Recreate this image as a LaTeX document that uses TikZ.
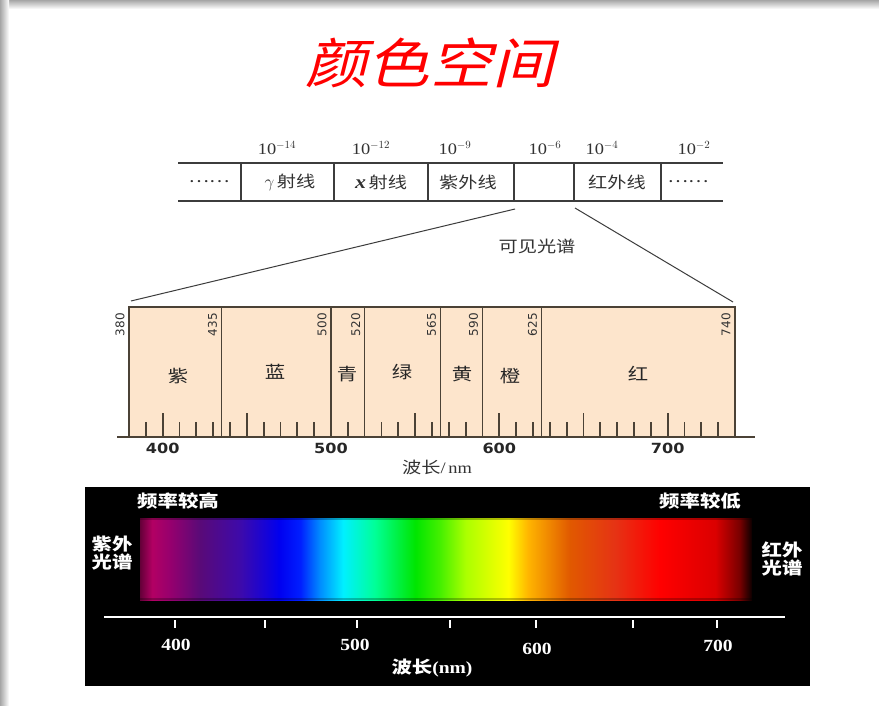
\documentclass[tikz,border=0pt]{standalone}
\usepackage{fontspec}
\setmainfont{Liberation Serif}[FakeStretch=1.15]
\newfontfamily\cjk{Noto Sans CJK SC}[FakeStretch=1.2]
\newfontfamily\titlefont{Noto Sans CJK SC}[FakeSlant=0.25,FakeStretch=1.15]
\newfontfamily\numfont{DejaVu Sans}[FakeStretch=1.15]
\newfontfamily\rotfont{DejaVu Sans}
\pgfdeclarehorizontalshading{spectrum}{100bp}{%
rgb(0bp)=(0.39,0,0.22);
rgb(25bp)=(0.39,0,0.22);
rgb(26bp)=(0.70,0,0.39);
rgb(27.45bp)=(0.59,0,0.43);
rgb(29.9bp)=(0.35,0.04,0.47);
rgb(33.2bp)=(0.24,0.04,0.67);
rgb(36.4bp)=(0,0,0.94);
rgb(38.1bp)=(0,0.12,1);
rgb(39.7bp)=(0,0.55,1);
rgb(41.6bp)=(0,0.94,1);
rgb(44.2bp)=(0,1,0.59);
rgb(47.5bp)=(0,0.90,0);
rgb(49.5bp)=(0.27,0.94,0);
rgb(51.6bp)=(0.67,1,0);
rgb(55.1bp)=(1,1,0);
rgb(56.7bp)=(1,0.71,0);
rgb(60.1bp)=(0.88,0.35,0);
rgb(63.8bp)=(0.90,0.20,0.08);
rgb(67.5bp)=(1,0,0);
rgb(72bp)=(0.86,0,0);
rgb(74bp)=(0.47,0,0);
rgb(75bp)=(0.04,0,0);
rgb(100bp)=(0.04,0,0)}
\definecolor{peach}{RGB}{253,229,204}
\definecolor{tline}{RGB}{60,60,60}
\definecolor{ttext}{RGB}{50,50,50}
\definecolor{bline}{RGB}{75,66,54}
\begin{document}
\begin{tikzpicture}[x=1pt,y=-1pt,
  tabline/.style={draw=tline,line width=1.1pt},
  tabtext/.style={text=ttext,font=\cjk\fontsize{16}{16}\selectfont,inner sep=0pt},
  exptext/.style={text=ttext,font=\fontsize{16}{16}\selectfont,inner sep=0pt},
  bandline/.style={draw=bline,line width=1.4pt},
  tickline/.style={draw=bline,line width=1.7pt},
  bandtext/.style={text=black!85,font=\cjk\fontsize{17}{17}\selectfont,inner sep=0pt},
  rotnum/.style={rotate=90,anchor=east,text=black!80,font=\rotfont\fontsize{12}{12}\selectfont,inner sep=0pt},
  axnum/.style={text=black!85,font=\numfont\bfseries\fontsize{14}{14}\selectfont,inner sep=0pt},
  whitetext/.style={text=white,font=\cjk\bfseries\fontsize{17}{17}\selectfont,inner sep=0pt,align=center},
  whitenum/.style={text=white,font=\bfseries\fontsize{17}{17}\selectfont,inner sep=0pt}]
\useasboundingbox (0,0) rectangle (879,706);
\fill[white] (0,0) rectangle (879,706);
\shade[top color=black!35,bottom color=white] (0,0) rectangle (879,9);
\shade[left color=black!35,right color=white] (0,0) rectangle (9,706);
% title
\node[text=red,font=\titlefont\fontsize{54}{54}\selectfont,inner sep=0pt] (title) at (430,63) {颜色空间};
% top table
\coordinate (tl) at (178,163); \coordinate (tr) at (723,163);
\coordinate (bl) at (178,201); \coordinate (br) at (723,201);
\draw[tabline] (tl) -- (tr);
\draw[tabline] (bl) -- (br);
\foreach \x/\n in {241/a,334/b,428/c,514/d,574/e,661/f}{
  \coordinate (d\n t) at (\x,163); \coordinate (d\n b) at (\x,201);
  \draw[tabline] (d\n t) -- (d\n b);}
\node[tabtext] (dots1) at (209,182) {……};
\node[tabtext] (gam) at (290,182) {{\rmfamily\itshape\fontsize{19}{19}\selectfont $\gamma$}\,射线};
\node[tabtext] (xr) at (381,182) {{\rmfamily\bfseries\itshape\fontsize{19}{19}\selectfont x}\,射线};
\node[tabtext] (uv) at (468,182) {紫外线};
\node[tabtext] (ir) at (617,182) {红外线};
\node[tabtext] (dots2) at (688,182) {……};
\node[exptext] (e1) at (277,148) {10$^{\scriptstyle -14}$};
\node[exptext] (e2) at (371,148) {10$^{\scriptstyle -12}$};
\node[exptext] (e3) at (455,148) {10$^{\scriptstyle -9}$};
\node[exptext] (e4) at (545,148) {10$^{\scriptstyle -6}$};
\node[exptext] (e5) at (602,148) {10$^{\scriptstyle -4}$};
\node[exptext] (e6) at (694,148) {10$^{\scriptstyle -2}$};
% zoom lines
\coordinate (zl) at (515,209); \coordinate (zr) at (575,208);
\coordinate (zl2) at (131,301); \coordinate (zr2) at (733,302);
\draw[draw=tline,line width=1pt] (zl) -- (zl2);
\draw[draw=tline,line width=1pt] (zr) -- (zr2);
\node[text=ttext,font=\cjk\fontsize{16}{16}\selectfont,inner sep=0pt] (vis) at (537,246) {可见光谱};
% visible band
\fill[peach] (129,307) rectangle (735,437);
\draw[bandline] (129,437) -- (129,307) -- (735,307) -- (735,437);
\foreach \l in {435,500,520,565,590,625}{
  \draw[bandline] ({129+(\l-380)*1.6833},307) -- ({129+(\l-380)*1.6833},437);}
\foreach \l in {380,435,500,520,565,590,625,740}{
  \node[rotnum] at ({129+(\l-380)*1.6833-9},313) {\l};}
\foreach \l in {390,400,...,730}{
  \ifnum\l=500\relax\else\ifnum\l=520\relax\else\ifnum\l=590\relax\else
    \pgfmathtruncatemacro{\mm}{mod(\l,50)}
    \ifnum\mm=0
      \draw[tickline] ({129+(\l-380)*1.6833},437) -- ++(0,-24);
    \else
      \draw[tickline] ({129+(\l-380)*1.6833},437) -- ++(0,-15);
    \fi
  \fi\fi\fi}
\draw[draw=bline,line width=1.8pt] (117,437) -- (755,437);
\node[bandtext] (zi) at (178,376) {紫};
\node[bandtext] (lan) at (275,372) {蓝};
\node[bandtext] (qing) at (347,374) {青};
\node[bandtext] (lv) at (402,372) {绿};
\node[bandtext] (huang) at (462,374) {黄};
\node[bandtext] (cheng) at (510,376) {橙};
\node[bandtext] (hong) at (638,374) {红};
\foreach \l in {400,500,600,700}{
  \node[axnum] at ({129+(\l-380)*1.6833},448) {\l};}
\node[text=black!80,font=\cjk\fontsize{16}{16}\selectfont,inner sep=0pt] (wl1) at (437,467) {波长{\rmfamily /\,nm}};
% black panel
\fill[black] (85,487) rectangle (810,686);
\shade[shading=spectrum] (140,518) rectangle (752,600);
\fill[black,opacity=0.25] (140,518) rectangle (752,520);
\fill[black,opacity=0.25] (140,598) rectangle (752,600);
\node[whitetext] (hi) at (178,501) {频率较高};
\node[whitetext] (lo) at (700,501) {频率较低};
\node[whitetext,font=\cjk\bfseries\fontsize{17}{16}\selectfont] (uvl) at (112,553) {紫外\\光谱};
\node[whitetext,font=\cjk\bfseries\fontsize{17}{16}\selectfont] (irl) at (782,559) {红外\\光谱};
\coordinate (axl) at (104,617); \coordinate (axr) at (785,617);
\draw[white,line width=1.6pt] (axl) -- (axr);
\foreach \x in {175,265,357,450,536,633,717}{
  \draw[white,line width=1.4pt] (\x,620) -- (\x,628);}
\node[whitenum] (w4) at (176,645) {400};
\node[whitenum] (w5) at (355,645) {500};
\node[whitenum] (w6) at (537,649) {600};
\node[whitenum] (w7) at (718,646) {700};
\node[whitetext] (wl2) at (432,668) {波长{\rmfamily\bfseries (nm)}};
\end{tikzpicture}
\end{document}
